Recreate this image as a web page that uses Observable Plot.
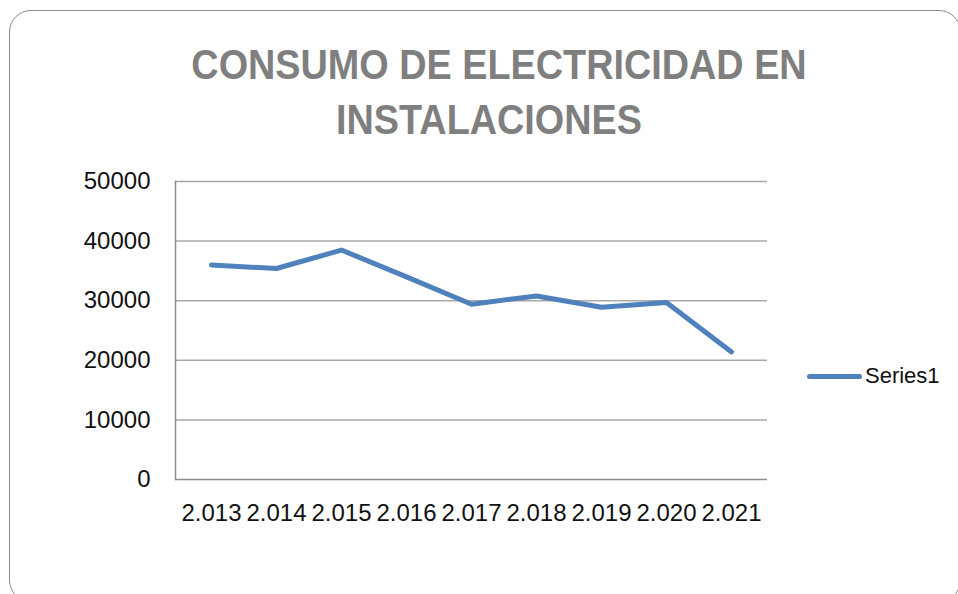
<!DOCTYPE html>
<html>
<head>
<meta charset="utf-8">
<script src="https://cdn.jsdelivr.net/npm/d3@7"></script>
<script src="https://cdn.jsdelivr.net/npm/@observablehq/plot@0.6"></script>
<style>
  html, body { margin: 0; padding: 0; background: #fff; }
  #wrap { position: relative; width: 958px; height: 594px; overflow: hidden; background: #fff; }
  #box { position: absolute; left: 9px; top: 10px; width: 952px; height: 592px; border: 1.5px solid #8c8c8c; border-radius: 22px; box-sizing: border-box; }
  .tline { position: absolute; font-family: "Liberation Sans", Arial, sans-serif; font-weight: bold; font-size: 42px; color: #7f7f7f; white-space: nowrap; transform: translateX(-50%) scaleX(0.9); line-height: 1; }
  #legend { position: absolute; left: 807px; top: 363px; display: flex; align-items: center; font-family: "Liberation Sans", Arial, sans-serif; font-size: 22px; color: #111; }
  #legend .sw { width: 55px; height: 5px; border-radius: 3px; background: #4f81bd; margin-right: 3px; }
  #chart { position: absolute; left: 0; top: 0; }
</style>
</head>
<body>
<div id="wrap">
  <div id="box"></div>
  <div id="chart"></div>
  <div class="tline" id="t1" style="left:499px; top:44px;">CONSUMO DE ELECTRICIDAD EN</div>
  <div class="tline" id="t2" style="left:489px; top:99px;">INSTALACIONES</div>
  <div id="legend"><span class="sw"></span><span>Series1</span></div>
</div>
<script>
const years = ["2.013", "2.014", "2.015", "2.016", "2.017", "2.018", "2.019", "2.020", "2.021"];
const values = [36000, 35400, 38500, 34000, 29400, 30800, 28900, 29700, 21400];
const yTicks = [0, 10000, 20000, 30000, 40000, 50000];
const seriesName = "Series1";

const data = years.map((y, i) => ({year: y, value: values[i], series: seriesName}));

const chart = Plot.plot({
  width: 958,
  height: 594,
  marginTop: 181,
  marginBottom: 115,
  marginLeft: 175,
  marginRight: 191,
  style: {fontFamily: "'Liberation Sans', Arial, sans-serif", fontSize: "24px", color: "#111", background: "transparent"},
  x: {type: "point", domain: years, padding: 0.5, label: null},
  y: {domain: [0, 50000], label: null},
  marks: [
    Plot.ruleY(yTicks.slice(1), {stroke: "#a9a9a9", strokeWidth: 1.5}),
    Plot.ruleY([0], {stroke: "#8c8c8c", strokeWidth: 1.5}),
    Plot.frame({anchor: "left", stroke: "#8c8c8c", strokeWidth: 1.5}),
    Plot.axisY({ticks: yTicks, tickSize: 0, tickPadding: 25, tickFormat: d => String(d), label: null}),
    Plot.axisX({tickSize: 0, tickPadding: 24, label: null}),
    Plot.line(data, {x: "year", y: "value", stroke: "#4f81bd", strokeWidth: 5, strokeLinecap: "round", strokeLinejoin: "round"})
  ]
});
document.getElementById("chart").appendChild(chart);
</script>
</body>
</html>
